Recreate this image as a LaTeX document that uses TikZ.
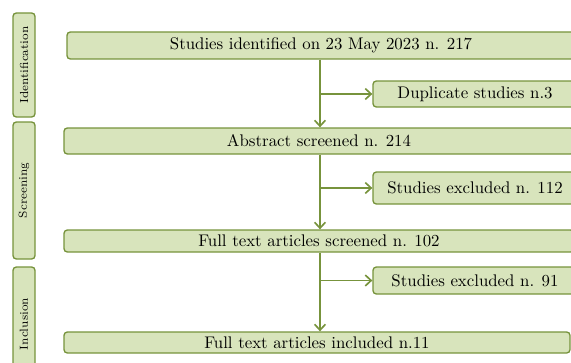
\documentclass[tikz,border=0pt]{standalone}
\usetikzlibrary{arrows.meta}
\definecolor{boxfill}{RGB}{216,228,188}
\definecolor{boxline}{RGB}{119,147,60}
\begin{document}
\begin{tikzpicture}[x=0.6pt, y=-0.6pt,
  stagebox/.style={draw=boxline, fill=boxfill, line width=0.8pt, rounded corners=2pt, inner sep=0pt, font=\fontsize{10.1}{12}\selectfont},
  sidebox/.style={draw=boxline, fill=boxfill, line width=0.8pt, rounded corners=2pt, inner sep=0pt, rotate=90, minimum height=13.2pt, font=\fontsize{7}{9}\selectfont},
  flow/.style={draw=boxline, line width=1pt, -{Straight Barb[length=3.5pt,width=6.5pt,line width=1pt]}}]
\useasboundingbox (0,0) rectangle (571,362);
\clip (0,0) rectangle (571,362);
\coordinate (spine) at (320,0);
\node[sidebox, minimum width=62.4pt] (sid) at (24,65){Identification};
\node[sidebox, minimum width=82.2pt] (sscr) at (24,190.5){Screening};
\node[sidebox, minimum width=68.4pt] (sinc) at (24,324){Inclusion};
\node[stagebox, minimum width=304.8pt, minimum height=16.2pt] (ident) at (321,45.5){Studies identified on 23 May 2023 n. 217};
\node[stagebox, minimum width=122.4pt, minimum height=15.6pt] (dupl) at (475,94){Duplicate studies n.3};
\node[stagebox, minimum width=306pt, minimum height=15.6pt] (abst) at (319,141){Abstract screened n. 214};
\node[stagebox, minimum width=122.4pt, minimum height=19.2pt] (excla) at (475,188){Studies excluded n. 112};
\node[stagebox, minimum width=306pt, minimum height=13.2pt] (fscr) at (319,241){Full text articles screened n. 102};
\node[stagebox, minimum width=122.4pt, minimum height=16.2pt] (exclb) at (475,280.5){Studies excluded n. 91};
\node[stagebox, minimum width=303.6pt, minimum height=12.6pt] (fincl) at (317,342.5){Full text articles included n.11};
\draw[flow] (ident.south -| spine) -- (abst.north -| spine);
\draw[flow] (dupl.west -| spine) -- (dupl.west);
\draw[flow] (abst.south -| spine) -- (fscr.north -| spine);
\draw[flow] (excla.west -| spine) -- (excla.west);
\draw[flow] (fscr.south -| spine) -- (fincl.north -| spine);
\draw[flow] (exclb.west -| spine) -- (exclb.west);
\end{tikzpicture}
\end{document}
